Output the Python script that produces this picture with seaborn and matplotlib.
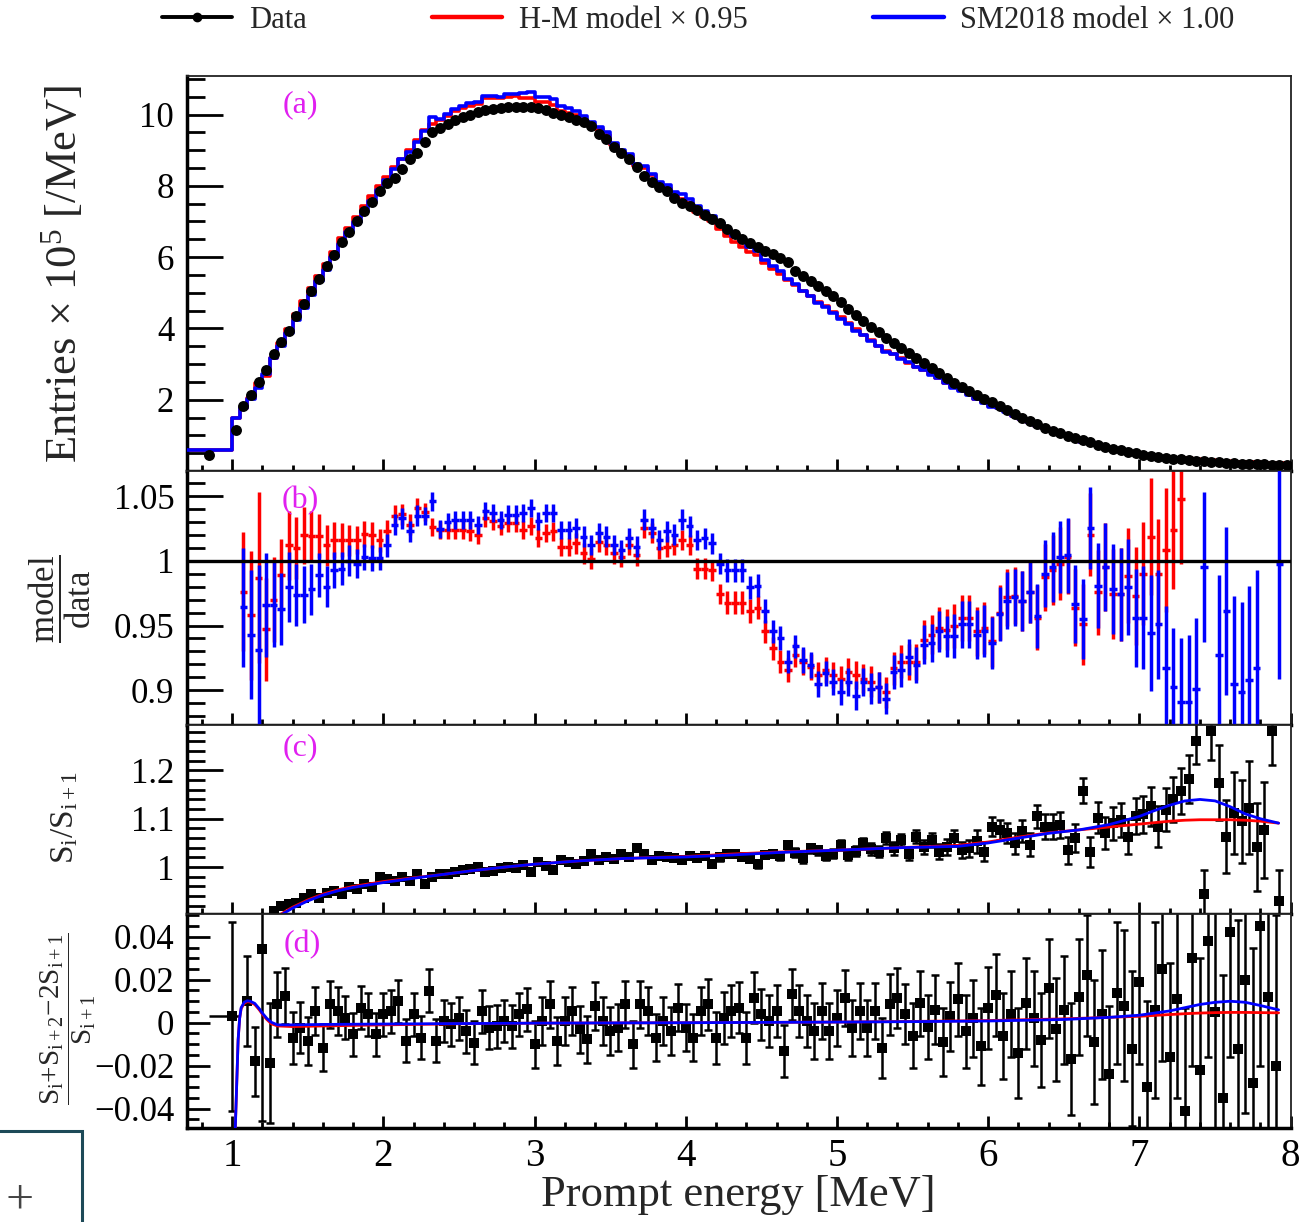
import numpy as np
import pandas as pd
import matplotlib
matplotlib.use("Agg")
import matplotlib.pyplot as plt
import seaborn as sns
from matplotlib.lines import Line2D
from matplotlib.patches import Rectangle
from matplotlib.ticker import FixedLocator, MultipleLocator, FixedFormatter

nan = np.nan

# ---------------- binning (MeV) ----------------
low_bin_edges = [0.7, 1.0]
bin_start, bin_width, n_bins = 1.0, 0.05, 140

# ---------------- panel (a): prompt spectrum (x 10^5 /MeV) ----------------
data_low_bin = 0.45
hm_low_bin = 0.59
sm_low_bin = 0.59
data_entries = [
    1.14, 1.82, 2.14, 2.51, 2.82, 3.27, 3.63, 3.94, 4.35, 4.68,
    5.05, 5.38, 5.75, 6.05, 6.42, 6.70, 7.00, 7.28, 7.55, 7.86,
    8.07, 8.23, 8.46, 8.76, 8.91, 9.22, 9.50, 9.62, 9.72, 9.85,
    9.93, 10.00, 10.08, 10.12, 10.15, 10.18, 10.20, 10.22, 10.21, 10.20,
    10.18, 10.12, 10.05, 10.00, 9.93, 9.85, 9.78, 9.68, 9.45, 9.32,
    9.10, 8.92, 8.74, 8.52, 8.28, 8.12, 7.98, 7.85, 7.66, 7.52,
    7.42, 7.32, 7.18, 7.06, 6.96, 6.80, 6.64, 6.50, 6.40, 6.28,
    6.17, 6.08, 5.98, 5.85, 5.62, 5.47, 5.34, 5.20, 5.05, 4.90,
    4.74, 4.55, 4.38, 4.20, 4.05, 3.90, 3.74, 3.58, 3.44, 3.30,
    3.16, 3.03, 2.89, 2.75, 2.61, 2.48, 2.37, 2.25, 2.13, 2.03,
    1.93, 1.83, 1.72, 1.60, 1.50, 1.41, 1.31, 1.22, 1.13, 1.06,
    0.99, 0.92, 0.86, 0.80, 0.74, 0.68, 0.63, 0.58, 0.54, 0.50,
    0.46, 0.43, 0.40, 0.37, 0.35, 0.33, 0.31, 0.29, 0.27, 0.26,
    0.24, 0.23, 0.22, 0.21, 0.20, 0.19, 0.19, 0.18, 0.17, 0.17]

# ---------------- panel (b): model / data ----------------
ratio_hm = [
    1.30, 0.976, 0.958, 0.987, 0.947, 0.970, 0.989, 1.012, 1.010, 1.020,
    1.019, 1.019, 1.012, 1.016, 1.016, 1.016, 1.016, 1.021, 1.020, 1.016,
    1.023, 1.035, 1.036, 1.028, 1.041, 1.038, 1.026, 1.024, 1.024, 1.0241,
    1.0241, 1.0228, 1.0202, 1.0332, 1.0306, 1.0267, 1.0293, 1.0293, 1.0241, 1.0267,
    1.0175, 1.0215, 1.0228, 1.0110, 1.0110, 1.0136, 1.0058, 1.0018, 1.0149, 1.0123,
    1.0058, 1.0031, 1.0123, 1.0044, 1.0254, 1.0215, 1.0097, 1.0110, 1.0123, 1.0162,
    1.0123, 0.9940, 0.9940, 0.9927, 0.9743, 0.9678, 0.9678, 0.9678, 0.9613, 0.9639,
    0.9456, 0.9325, 0.9220, 0.9155, 0.9272, 0.9220, 0.9181, 0.9115, 0.9155, 0.9115,
    0.9089, 0.9142, 0.9115, 0.9089, 0.9063, 0.9024, 0.8985, 0.9168, 0.9220, 0.9220,
    0.9220, 0.9390, 0.9430, 0.9482, 0.9469, 0.9495, 0.9560, 0.9560, 0.9456, 0.9482,
    0.9377, 0.9600, 0.9717, 0.9730, 0.9691, 0.9757, 0.9560, 0.9874, 0.9927, 0.9979,
    1.0031, 0.9639, 0.9508, 1.0202, 0.9757, 0.9953, 0.9743, 0.9743, 0.9887, 0.9730,
    0.9901, 1.0188, 0.9901, 1.0084, 1.0241, 1.0476, 1.14, 1.17, 1.15, 1.19,
    1.16, 1.21, 1.18, 1.23, 1.20, 1.26, 1.22, 1.25, 1.29, 1.27]
ratio_sm = [
    1.30, 0.964, 0.943, 0.931, 0.966, 0.966, 0.963, 0.980, 0.974, 0.974,
    0.978, 0.989, 0.980, 0.993, 0.994, 1.000, 0.998, 1.003, 1.002, 1.002,
    1.012, 1.028, 1.033, 1.023, 1.035, 1.035, 1.046, 1.025, 1.030, 1.0319,
    1.0319, 1.0319, 1.0280, 1.0385, 1.0372, 1.0319, 1.0359, 1.0359, 1.0372, 1.0411,
    1.0306, 1.0372, 1.0372, 1.0241, 1.0241, 1.0254, 1.0188, 1.0123, 1.0215, 1.0188,
    1.0123, 1.0084, 1.0175, 1.0110, 1.0319, 1.0254, 1.0162, 1.0228, 1.0202, 1.0319,
    1.0267, 1.0162, 1.0175, 1.0136, 0.9979, 0.9927, 0.9927, 0.9927, 0.9796, 0.9809,
    0.9613, 0.9456, 0.9403, 0.9220, 0.9338, 0.9233, 0.9194, 0.9050, 0.9129, 0.9063,
    0.8985, 0.9063, 0.8958, 0.9063, 0.9011, 0.9024, 0.8932, 0.9142, 0.9155, 0.9259,
    0.9194, 0.9351, 0.9364, 0.9456, 0.9416, 0.9416, 0.9508, 0.9508, 0.9430, 0.9456,
    0.9364, 0.9587, 0.9691, 0.9717, 0.9691, 0.9757, 0.9573, 0.9901, 0.9953, 1.0031,
    1.0044, 0.9665, 0.9547, 1.0254, 0.9809, 0.9953, 0.9783, 0.9743, 0.9796, 0.9560,
    0.9560, 0.9443, 0.9508, 0.9168, 0.9024, 0.8906, 0.8906, 0.9011, 0.9953, 0.80,
    0.9272, 0.9613, 0.9050, 0.8985, 0.9076, 0.9168, 0.78, 0.78, 0.9979, 0.77]
ratio_err = [
    0.050, 0.046, 0.050, 0.066, 0.040, 0.033, 0.028, 0.027, 0.024, 0.022,
    0.020, 0.017, 0.016, 0.014, 0.013, 0.012, 0.011, 0.010, 0.010, 0.009,
    0.009, 0.008, 0.008, 0.008, 0.008, 0.007, 0.007, 0.007, 0.007, 0.007,
    0.007, 0.007, 0.007, 0.007, 0.007, 0.007, 0.007, 0.007, 0.007, 0.007,
    0.007, 0.007, 0.007, 0.007, 0.007, 0.008, 0.008, 0.008, 0.008, 0.008,
    0.008, 0.008, 0.008, 0.008, 0.008, 0.008, 0.008, 0.008, 0.008, 0.008,
    0.008, 0.008, 0.008, 0.008, 0.008, 0.009, 0.009, 0.009, 0.009, 0.009,
    0.009, 0.009, 0.009, 0.009, 0.009, 0.010, 0.010, 0.010, 0.010, 0.010,
    0.010, 0.011, 0.011, 0.011, 0.012, 0.012, 0.012, 0.013, 0.013, 0.014,
    0.014, 0.015, 0.015, 0.016, 0.016, 0.017, 0.018, 0.018, 0.019, 0.020,
    0.020, 0.021, 0.022, 0.022, 0.023, 0.024, 0.025, 0.026, 0.027, 0.028,
    0.029, 0.030, 0.031, 0.032, 0.033, 0.034, 0.035, 0.036, 0.037, 0.038,
    0.040, 0.045, 0.042, 0.048, 0.046, 0.050, 0.052, 0.055, 0.058, 0.060,
    0.062, 0.065, 0.068, 0.070, 0.073, 0.076, 0.080, 0.083, 0.089, 0.092]

# ---------------- panel (c): S_i / S_{i+1} ----------------
c_vals = [
    nan, nan, nan, nan, nan, 0.909, 0.919, 0.923, 0.926, 0.937,
    0.944, 0.936, 0.947, 0.951, 0.944, 0.958, 0.954, 0.965, 0.958, 0.979,
    0.975, 0.972, 0.979, 0.972, 0.986, 0.965, 0.979, 0.986, 0.986, 0.990,
    0.993, 0.996, 1.000, 0.989, 0.992, 0.998, 1.001, 0.999, 1.004, 0.989,
    1.011, 1.002, 0.993, 1.014, 1.011, 1.006, 1.012, 1.028, 1.014, 1.021,
    1.016, 1.028, 1.020, 1.039, 1.028, 1.014, 1.024, 1.021, 1.018, 1.014,
    1.022, 1.018, 1.024, 1.007, 1.020, 1.028, 1.028, 1.021, 1.017, 1.007,
    1.026, 1.028, 1.022, 1.046, 1.030, 1.018, 1.039, 1.035, 1.024, 1.028,
    1.046, 1.025, 1.033, 1.049, 1.038, 1.032, 1.060, 1.039, 1.056, 1.028,
    1.063, 1.042, 1.056, 1.032, 1.042, 1.060, 1.035, 1.039, 1.053, 1.032,
    1.084, 1.077, 1.070, 1.049, 1.074, 1.046, 1.105, 1.084, 1.084, 1.088,
    1.035, 1.060, 1.158, 1.032, 1.102, 1.070, 1.091, 1.098, 1.063, 1.105,
    1.109, 1.126, 1.084, 1.119, 1.140, 1.158, 1.182, 1.260, 0.944, 1.281,
    1.175, 1.063, 1.112, 1.095, 1.123, 1.042, 1.077, 1.281, 0.930, nan]
c_errs = [
    nan, nan, nan, nan, nan, 0.006, 0.006, 0.006, 0.005, 0.005,
    0.005, 0.005, 0.005, 0.005, 0.004, 0.004, 0.004, 0.004, 0.004, 0.004,
    0.004, 0.004, 0.004, 0.004, 0.004, 0.004, 0.004, 0.004, 0.004, 0.004,
    0.004, 0.004, 0.004, 0.004, 0.004, 0.004, 0.004, 0.004, 0.004, 0.004,
    0.005, 0.005, 0.005, 0.005, 0.005, 0.005, 0.005, 0.005, 0.005, 0.005,
    0.005, 0.005, 0.005, 0.006, 0.006, 0.006, 0.006, 0.006, 0.006, 0.006,
    0.006, 0.006, 0.007, 0.007, 0.007, 0.007, 0.007, 0.007, 0.007, 0.008,
    0.008, 0.008, 0.008, 0.008, 0.009, 0.009, 0.009, 0.009, 0.010, 0.010,
    0.010, 0.011, 0.011, 0.011, 0.012, 0.012, 0.012, 0.013, 0.013, 0.013,
    0.014, 0.014, 0.015, 0.015, 0.016, 0.016, 0.017, 0.018, 0.023, 0.019,
    0.020, 0.020, 0.021, 0.022, 0.023, 0.024, 0.024, 0.025, 0.026, 0.027,
    0.028, 0.029, 0.026, 0.031, 0.032, 0.033, 0.034, 0.035, 0.036, 0.037,
    0.038, 0.040, 0.042, 0.044, 0.046, 0.048, 0.050, 0.047, 0.049, 0.060,
    0.077, 0.075, 0.084, 0.086, 0.096, 0.091, 0.100, 0.070, 0.065, nan]
c_curve_x = [1.30, 1.35, 1.40, 1.50, 1.60, 1.70, 1.80, 2.00, 2.20, 2.40, 2.60, 2.80,
             3.00, 3.30, 3.60, 4.00, 4.30, 4.60, 5.00, 5.40, 5.80, 6.00, 6.20, 6.40,
             6.60, 6.80, 7.00, 7.10, 7.20, 7.30, 7.40, 7.50, 7.60, 7.70, 7.80, 7.92]
c_curve_hm = [0.898, 0.908, 0.917, 0.932, 0.944, 0.953, 0.960, 0.970, 0.978, 0.985, 0.993, 1.000,
              1.006, 1.013, 1.018, 1.022, 1.027, 1.031, 1.035, 1.040, 1.045, 1.052, 1.062, 1.071,
              1.077, 1.083, 1.089, 1.092, 1.095, 1.097, 1.098, 1.098, 1.098, 1.097, 1.095, 1.091]
c_curve_sm = [0.896, 0.906, 0.915, 0.930, 0.942, 0.951, 0.958, 0.968, 0.977, 0.985, 0.993, 1.000,
              1.006, 1.013, 1.018, 1.021, 1.025, 1.030, 1.035, 1.040, 1.043, 1.050, 1.060, 1.070,
              1.077, 1.088, 1.105, 1.117, 1.128, 1.137, 1.140, 1.137, 1.125, 1.110, 1.100, 1.091]

# ---------------- panel (d): (S_i + S_{i+2} - 2 S_{i+1}) / S_{i+1} ----------------
d_vals = [
    0.0031, nan, 0.0101, -0.0179, 0.0342, -0.0186, 0.0085, 0.0124, -0.0070, -0.0023,
    -0.0085, 0.0054, -0.0117, 0.0085, 0.0054, 0.0023, -0.0054, 0.0070, 0.0039, -0.0054,
    0.0039, 0.0054, 0.0101, -0.0085, 0.0039, -0.0070, 0.0148, -0.0085, 0.0008, -0.0008,
    0.0020, -0.0039, -0.0093, 0.0054, -0.0023, -0.0016, 0.0008, -0.0016, 0.0039, 0.0062,
    -0.0101, 0.0008, 0.0085, -0.0085, 0.0008, 0.0054, -0.0031, -0.0078, 0.0078, 0.0008,
    -0.0039, -0.0023, 0.0085, -0.0101, 0.0085, 0.0054, -0.0070, 0.0008, -0.0039, 0.0070,
    -0.0023, -0.0070, 0.0054, 0.0085, -0.0070, 0.0023, 0.0054, 0.0070, -0.0070, 0.0117,
    0.0039, 0.0008, 0.0054, -0.0132, 0.0132, 0.0054, 0.0008, -0.0039, 0.0054, -0.0039,
    0.0023, 0.0117, -0.0023, 0.0054, -0.0023, 0.0054, -0.0117, 0.0085, 0.0117, 0.004,
    -0.006, 0.009, -0.002, 0.006, -0.009, 0.003, 0.011, -0.004, 0.002, -0.011,
    0.007, 0.013, -0.006, 0.004, -0.014, 0.009, 0.002, -0.008, 0.016, -0.003,
    0.006, -0.017, 0.012, 0.022, -0.009, 0.004, -0.024, 0.014, 0.008, -0.012,
    0.019, -0.030, 0.006, 0.025, -0.016, 0.011, -0.041, 0.030, -0.022, 0.038,
    0.005, -0.035, 0.042, -0.012, 0.020, -0.028, 0.045, 0.012, -0.020, nan]
d_errs = [
    0.044, nan, 0.021, 0.016, 0.080, 0.028, 0.015, 0.013, 0.012, 0.012,
    0.011, 0.011, 0.011, 0.011, 0.011, 0.010, 0.010, 0.010, 0.010, 0.010,
    0.010, 0.010, 0.010, 0.010, 0.010, 0.010, 0.010, 0.010, 0.010, 0.010,
    0.010, 0.010, 0.010, 0.010, 0.010, 0.010, 0.010, 0.010, 0.010, 0.010,
    0.011, 0.011, 0.011, 0.011, 0.011, 0.011, 0.011, 0.011, 0.011, 0.011,
    0.011, 0.011, 0.011, 0.011, 0.011, 0.011, 0.011, 0.011, 0.011, 0.011,
    0.011, 0.011, 0.011, 0.012, 0.012, 0.012, 0.012, 0.012, 0.012, 0.012,
    0.012, 0.012, 0.012, 0.012, 0.012, 0.012, 0.012, 0.013, 0.013, 0.013,
    0.013, 0.013, 0.013, 0.013, 0.013, 0.013, 0.014, 0.014, 0.014, 0.014,
    0.015, 0.015, 0.015, 0.016, 0.016, 0.016, 0.017, 0.017, 0.018, 0.018,
    0.019, 0.019, 0.020, 0.020, 0.021, 0.021, 0.022, 0.022, 0.023, 0.024,
    0.025, 0.026, 0.027, 0.028, 0.029, 0.030, 0.032, 0.033, 0.035, 0.036,
    0.038, 0.040, 0.041, 0.043, 0.044, 0.046, 0.048, 0.050, 0.052, 0.054,
    0.055, 0.057, 0.058, 0.060, 0.062, 0.063, 0.065, 0.067, 0.070, nan]
d_curve_x = [1.02, 1.03, 1.04, 1.05, 1.06, 1.08, 1.10, 1.12, 1.15, 1.18, 1.20, 1.23,
             1.26, 1.30, 1.40, 1.60, 2.00, 2.50, 3.00, 4.00, 5.00, 5.50, 6.00, 6.50,
             6.80, 7.00, 7.20, 7.30, 7.40, 7.50, 7.60, 7.70, 7.80, 7.92]
d_curve_sm = [-0.052, -0.030, -0.008, 0.002, 0.0070, 0.0095, 0.0102, 0.0100, 0.0090, 0.0065,
              0.0045, 0.0020, 0.0002, -0.0010, -0.0010, -0.0008, -0.0006, -0.0004, -0.0002, 0.0000,
              0.0003, 0.0005, 0.0008, 0.0015, 0.0025, 0.0035, 0.0055, 0.0070, 0.0085, 0.0095,
              0.0100, 0.0095, 0.0080, 0.0060]
d_curve_hm = [-0.052, -0.030, -0.008, 0.002, 0.0065, 0.0090, 0.0098, 0.0096, 0.0085, 0.0060,
              0.0040, 0.0015, -0.0005, -0.0015, -0.0018, -0.0015, -0.0010, -0.0005, -0.0002, 0.0000,
              0.0003, 0.0006, 0.0010, 0.0018, 0.0025, 0.0030, 0.0038, 0.0042, 0.0045, 0.0047,
              0.0048, 0.0048, 0.0047, 0.0046]

# ---------------- text ----------------
legend_labels = ["Data", "H-M model × 0.95", "SM2018 model × 1.00"]
x_tick_vals = [1, 2, 3, 4, 5, 6, 7, 8]
x_tick_labels = ["1", "2", "3", "4", "5", "6", "7", "8"]
a_ticks, a_labels = [2, 4, 6, 8, 10], ["2", "4", "6", "8", "10"]
b_ticks, b_labels = [0.9, 0.95, 1.0, 1.05], ["0.9", "0.95", "1", "1.05"]
c_ticks, c_labels = [1.0, 1.1, 1.2], ["1", "1.1", "1.2"]
d_ticks, d_labels = [-0.04, -0.02, 0.0, 0.02, 0.04], ["\u22120.04", "\u22120.02", "0", "0.02", "0.04"]
panel_tags = ["(a)", "(b)", "(c)", "(d)"]

# ---------------- derived arrays ----------------
edges = np.round(bin_start + bin_width * np.arange(n_bins + 1), 3)
centers = edges[:-1] + bin_width / 2
data_arr = np.array(data_entries)
model_hm = data_arr * np.array(ratio_hm)
model_sm = data_arr * np.array(ratio_sm)
hist_edges = [low_bin_edges[0]] + [float(e) for e in edges]
hist_df = pd.DataFrame({
    "E": np.concatenate([[np.mean(low_bin_edges)], centers]),
    "hm": np.concatenate([[hm_low_bin], model_hm]),
    "sm": np.concatenate([[sm_low_bin], model_sm]),
    "data": np.concatenate([[data_low_bin], data_arr]),
})
d_x = edges[:-1]

# ---------------- style ----------------
sns.set_theme(style="ticks")
plt.rcParams["font.family"] = ["Liberation Serif", "DejaVu Serif"]
plt.rcParams["mathtext.fontset"] = "custom"
plt.rcParams["mathtext.rm"] = "Liberation Serif"
plt.rcParams["mathtext.it"] = "Liberation Serif:italic"
plt.rcParams["mathtext.bf"] = "Liberation Serif:bold"
plt.rcParams["axes.unicode_minus"] = True

W, H = 1315, 1222
fig = plt.figure(figsize=(W / 100, H / 100), dpi=100)
fig.patch.set_facecolor("white")

AX_L, AX_R = 186.7, 1290.7


def rect(top, bottom):
    return [AX_L / W, 1 - bottom / H, (AX_R - AX_L) / W, (bottom - top) / H]


ax_a = fig.add_axes(rect(76, 471))
ax_b = fig.add_axes(rect(471, 725))
ax_c = fig.add_axes(rect(725, 914))
ax_d = fig.add_axes(rect(914, 1128))


def style(ax, ylim, yt, yl, yminor, maj_len, min_len, labelx=False):
    ax.set_facecolor("white")
    ax.grid(False)
    ax.set_xlim(0.7, 8.0)
    ax.set_ylim(*ylim)
    ax.xaxis.set_major_locator(FixedLocator(x_tick_vals))
    ax.xaxis.set_major_formatter(FixedFormatter(x_tick_labels))
    ax.xaxis.set_minor_locator(MultipleLocator(0.2))
    ax.yaxis.set_major_locator(FixedLocator(yt))
    ax.yaxis.set_major_formatter(FixedFormatter(yl))
    ax.yaxis.set_minor_locator(MultipleLocator(yminor))
    ax.tick_params(axis="y", which="major", direction="in", length=maj_len, width=2,
                   left=True, right=False, labelsize=25, pad=9, colors="black")
    ax.tick_params(axis="y", which="minor", direction="in", length=min_len, width=2,
                   left=True, right=False, colors="black")
    ax.tick_params(axis="x", which="major", direction="in", length=8.5, width=2,
                   bottom=True, top=False, labelsize=28, pad=7, labelbottom=labelx, colors="black")
    ax.tick_params(axis="x", which="minor", direction="in", length=4.3, width=2,
                   bottom=True, top=False, colors="black")
    for s in ["left", "bottom"]:
        ax.spines[s].set_linewidth(2.5)
        ax.spines[s].set_color("black")
    for s in ["top", "right"]:
        ax.spines[s].set_linewidth(1.3)
        ax.spines[s].set_color("#222222")
    ax.set_xlabel("")
    ax.set_ylabel("")


# ---- (a) ----
sns.histplot(data=hist_df, x="E", weights="hm", bins=hist_edges, element="step", fill=False,
             color="red", linewidth=2.6, ax=ax_a, zorder=2)
sns.histplot(data=hist_df, x="E", weights="sm", bins=hist_edges, element="step", fill=False,
             color="blue", linewidth=2.6, ax=ax_a, zorder=3)
sns.scatterplot(data=hist_df, x="E", y="data", color="black", s=62, linewidth=0, ax=ax_a,
                zorder=5, legend=False)
style(ax_a, (0, 11.08), a_ticks, a_labels, 0.5, 26, 13)

# ---- (b) ----
ax_b.errorbar(centers, ratio_hm, xerr=bin_width / 2, yerr=ratio_err, fmt="none",
              ecolor="red", elinewidth=2.5, capsize=0, zorder=2)
ax_b.errorbar(centers, ratio_sm, xerr=bin_width / 2, yerr=ratio_err, fmt="none",
              ecolor="blue", elinewidth=2.5, capsize=0, zorder=3)
ax_b.axhline(1.0, color="black", lw=2.4, zorder=4)
style(ax_b, (0.873, 1.0696), b_ticks, b_labels, 0.01, 26, 13)

# ---- (c) ----
ax_c.errorbar(centers, c_vals, yerr=c_errs, fmt="none", ecolor="black",
              elinewidth=1.8, capsize=3.2, capthick=1.8, zorder=2)
sns.scatterplot(x=centers, y=c_vals, marker="s", s=50, color="black", linewidth=0,
                ax=ax_c, zorder=3, legend=False)
sns.lineplot(x=c_curve_x, y=c_curve_hm, color="red", lw=2.0, ax=ax_c, zorder=4,
             estimator=None, sort=False)
sns.lineplot(x=c_curve_x, y=c_curve_sm, color="blue", lw=2.0, ax=ax_c, zorder=5,
             estimator=None, sort=False)
style(ax_c, (0.903, 1.294), c_ticks, c_labels, 0.02, 26, 13)

# ---- (d) ----
ax_d.errorbar(d_x, d_vals, yerr=d_errs, fmt="none", ecolor="black",
              elinewidth=1.8, capsize=3.2, capthick=1.8, zorder=2)
ax_d.errorbar([d_x[0]], [d_vals[0]], xerr=[[0.15], [0.05]], fmt="none", ecolor="black",
              elinewidth=1.8, capsize=0, zorder=2)
sns.scatterplot(x=d_x, y=d_vals, marker="s", s=42, color="black", linewidth=0,
                ax=ax_d, zorder=3, legend=False)
sns.lineplot(x=d_curve_x, y=d_curve_hm, color="red", lw=2.0, ax=ax_d, zorder=4,
             estimator=None, sort=False)
sns.lineplot(x=d_curve_x, y=d_curve_sm, color="blue", lw=2.0, ax=ax_d, zorder=5,
             estimator=None, sort=False)
style(ax_d, (-0.049, 0.0506), d_ticks, d_labels, 0.005, 16.5, 8.6, labelx=True)


def fx(px):
    return px / W


def fy(py):
    return 1 - py / H


# axis titles
fig.text(fx(738), fy(1195), "Prompt energy [MeV]", fontsize=32, ha="center", va="center")
fig.text(fx(62), fy(274), "Entries × 10$^{\\mathrm{5}}$ [/MeV]", fontsize=32, rotation=90,
         ha="center", va="center")
fig.text(fx(60), fy(599), r"$\dfrac{\mathrm{model}}{\mathrm{data}}$", fontsize=25, rotation=90,
         ha="center", va="center")
fig.text(fx(65), fy(818), r"$\mathrm{S}_{\mathrm{i}}/\mathrm{S}_{\mathrm{i+1}}$", fontsize=24,
         rotation=90, ha="center", va="center")
fig.text(fx(68), fy(1019),
         r"$\dfrac{\mathrm{S}_{\mathrm{i}}{+}\mathrm{S}_{\mathrm{i+2}}{-}2\mathrm{S}_{\mathrm{i+1}}}{\mathrm{S}_{\mathrm{i+1}}}$",
         fontsize=21, rotation=90, ha="center", va="center")

# panel tags
tag_color = "#e020f0"
for tag, (px, py) in zip(panel_tags, [(300, 105), (300, 501), (300, 748), (302, 945)]):
    fig.text(fx(px), fy(py), tag, fontsize=23, color=tag_color, ha="center", va="center")

# legend
handles = [Line2D([], [], color="black", lw=2.8, marker="o", ms=6),
           Line2D([], [], color="red", lw=3.2),
           Line2D([], [], color="blue", lw=3.2)]
fig.legend(handles, legend_labels, loc="center left", bbox_to_anchor=(fx(162), fy(20)),
           ncol=3, frameon=False, fontsize=22, handlelength=2.3, handletextpad=0.55,
           columnspacing=4.1, borderpad=0, borderaxespad=0)

# bottom-left widget box (part of the reference screenshot)
fig.patches.append(Rectangle((-0.01, -0.01), fx(82) + 0.01, (1222 - 1131) / H + 0.01,
                             transform=fig.transFigure, fill=False, edgecolor="#1d4a58", lw=2.2))
fig.text(fx(20), fy(1201), "+", fontsize=36, color="#444444", ha="center", va="center")

fig.savefig("out.png", dpi=100, facecolor="white")
